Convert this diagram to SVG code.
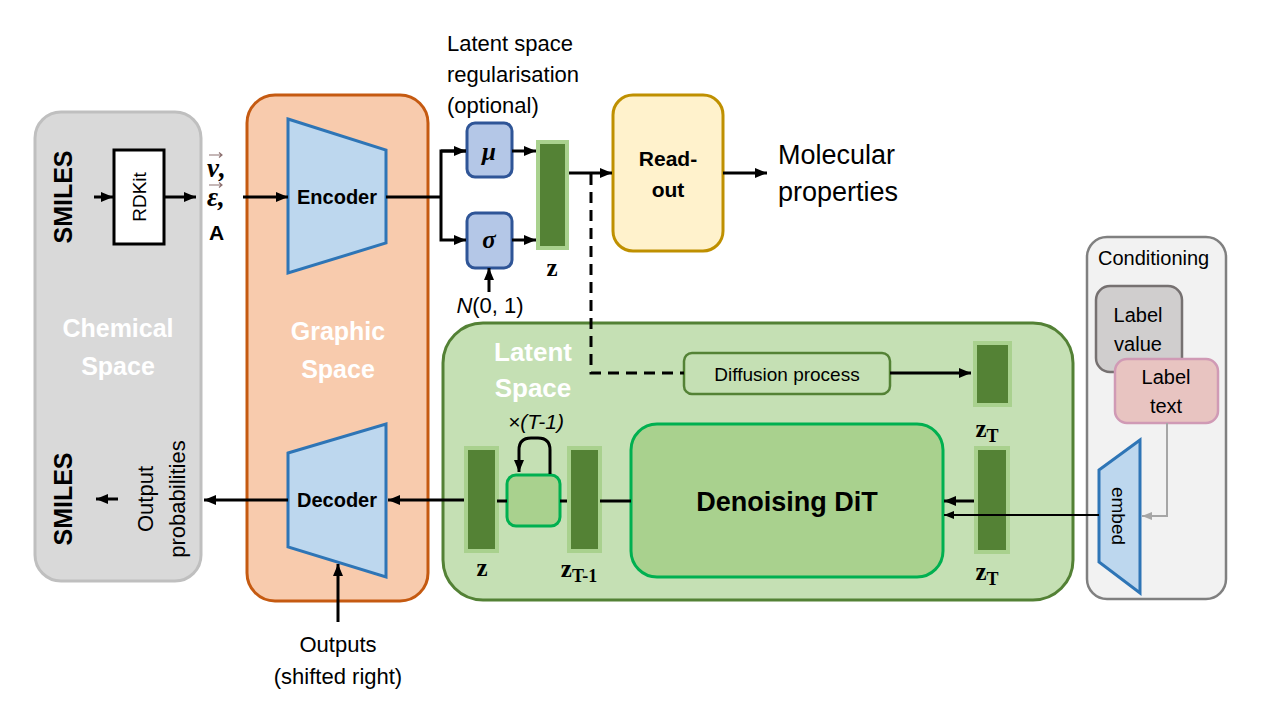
<svg xmlns="http://www.w3.org/2000/svg" width="1280" height="720" viewBox="0 0 1280 720">
<style>
.sans{font-family:"Liberation Sans",Arial,sans-serif;}
.serif{font-family:"Liberation Serif","Times New Roman",serif;}
.b{font-weight:bold;}
.ln{fill:none;stroke:#000;stroke-width:3;}
.thin{fill:none;stroke:#000;stroke-width:2;}
.zbar{fill:#548235;stroke:#a9d18e;stroke-width:4;}
.white{fill:#fff;}
.vec{fill:none;stroke:#8c7070;stroke-width:1.2;}
</style>
<defs>
<marker id="ah" markerUnits="userSpaceOnUse" markerWidth="12" markerHeight="10" viewBox="0 0 12 10" refX="12" refY="5" orient="auto">
<path d="M0,0 L12,5 L0,10 z" fill="#000"/>
</marker>
<marker id="ahs" markerUnits="userSpaceOnUse" markerWidth="10" markerHeight="8" viewBox="0 0 10 8" refX="10" refY="4" orient="auto">
<path d="M0,0 L10,4 L0,8 z" fill="#000"/>
</marker>
<marker id="ahg" markerUnits="userSpaceOnUse" markerWidth="10" markerHeight="8" viewBox="0 0 10 8" refX="10" refY="4" orient="auto">
<path d="M0,0 L10,4 L0,8 z" fill="#a6a6a6"/>
</marker>
</defs>
<rect width="1280" height="720" fill="#fff"/>

<g id="chemical-space">
<rect x="35" y="112" width="166" height="469" rx="26" fill="#d9d9d9" stroke="#bfbfbf" stroke-width="3"/>
<text class="sans b white" x="118" y="337" font-size="25" text-anchor="middle">Chemical</text>
<text class="sans b white" x="118" y="375" font-size="25" text-anchor="middle">Space</text>
<text class="sans b" transform="translate(63,197) rotate(-90)" font-size="25" text-anchor="middle" dominant-baseline="central">SMILES</text>
<text class="sans b" transform="translate(63,499) rotate(-90)" font-size="25" text-anchor="middle" dominant-baseline="central">SMILES</text>
<text class="sans" transform="translate(161,499) rotate(-90)" font-size="22" text-anchor="middle"><tspan x="0" y="-8">Output</tspan><tspan x="0" y="24">probabilities</tspan></text>
</g>

<g id="rdkit">
<rect x="114" y="150" width="50" height="94" fill="#fff" stroke="#000" stroke-width="3"/>
<text class="sans" transform="translate(139,197) rotate(-90)" font-size="19" text-anchor="middle" dominant-baseline="central">RDKit</text>
</g>

<g id="graph-inputs">
<text class="serif b" x="207" y="177" font-size="27" font-style="italic">ν,</text>
<path class="vec" d="M209,155 L222,155 M219,152.5 L222,155 L219,157.5"/>
<text class="serif b" x="207" y="206" font-size="27" font-style="italic">ε,</text>
<path class="vec" d="M209,185 L222,185 M219,182.5 L222,185 L219,187.5"/>
<text class="sans b" x="209" y="240" font-size="21">A</text>
</g>

<g id="graphic-space">
<rect x="247" y="95" width="181" height="506" rx="28" fill="#f8cbad" stroke="#c55a11" stroke-width="3"/>
<text class="sans b white" x="338" y="340" font-size="25" text-anchor="middle">Graphic</text>
<text class="sans b white" x="338" y="378" font-size="25" text-anchor="middle">Space</text>
</g>

<g id="encoder">
<polygon points="288,119 386,150 386,243 288,273" fill="#bdd7ee" stroke="#2e75b6" stroke-width="3"/>
<text class="sans b" x="337" y="204" font-size="20" text-anchor="middle">Encoder</text>
</g>

<g id="decoder">
<polygon points="288,453 386,424 386,577 288,547" fill="#bdd7ee" stroke="#2e75b6" stroke-width="3"/>
<text class="sans b" x="337" y="507" font-size="20" text-anchor="middle">Decoder</text>
</g>

<g id="outputs-label">
<text class="sans" x="338" y="652" font-size="22" text-anchor="middle">Outputs</text>
<text class="sans" x="338" y="684" font-size="22" text-anchor="middle">(shifted right)</text>
</g>

<g id="regularisation-label">
<text class="sans" x="447" y="51" font-size="22">Latent space</text>
<text class="sans" x="447" y="82" font-size="22">regularisation</text>
<text class="sans" x="447" y="113" font-size="22">(optional)</text>
</g>

<g id="mu">
<rect x="467" y="123" width="45" height="54" rx="8" fill="#b4c7e7" stroke="#2f5597" stroke-width="3"/>
<text class="serif b" x="489" y="160" font-size="25" font-style="italic" text-anchor="middle">μ</text>
</g>

<g id="sigma">
<rect x="467" y="213" width="45" height="55" rx="8" fill="#b4c7e7" stroke="#2f5597" stroke-width="3"/>
<text class="serif b" x="489" y="248" font-size="25" font-style="italic" text-anchor="middle">σ</text>
</g>

<g id="noise-label">
<text class="sans" x="490" y="313" font-size="22" text-anchor="middle"><tspan font-style="italic">N</tspan>(0, 1)</text>
</g>

<g id="z-top">
<rect class="zbar" x="538" y="142" width="29" height="106"/>
<text class="serif b" x="552" y="276" font-size="25" text-anchor="middle">z</text>
</g>

<g id="readout">
<rect x="613" y="95" width="110" height="156" rx="20" fill="#fff2cc" stroke="#bf9000" stroke-width="3"/>
<text class="sans b" x="668" y="166" font-size="21" text-anchor="middle">Read-</text>
<text class="sans b" x="668" y="197" font-size="21" text-anchor="middle">out</text>
</g>

<g id="molecular-properties">
<text class="sans" x="778" y="164" font-size="27">Molecular</text>
<text class="sans" x="778" y="201" font-size="27">properties</text>
</g>

<g id="latent-space">
<rect x="443" y="323" width="630" height="277" rx="40" fill="#c5e0b4" stroke="#538135" stroke-width="3"/>
<text class="sans b white" x="533" y="361" font-size="26" text-anchor="middle">Latent</text>
<text class="sans b white" x="533" y="397" font-size="26" text-anchor="middle">Space</text>
</g>

<g id="diffusion-process">
<rect x="684" y="353" width="206" height="41" rx="8" fill="#c5e0b4" stroke="#548235" stroke-width="2.5"/>
<text class="sans" x="787" y="381" font-size="19" text-anchor="middle">Diffusion process</text>
</g>

<g id="zT-top">
<rect class="zbar" x="975" y="343" width="35" height="62"/>
<text class="serif b" x="987" y="437" font-size="25" text-anchor="middle">z<tspan font-size="18" dy="5">T</tspan></text>
</g>

<g id="denoising-dit">
<rect x="631" y="424" width="312" height="153" rx="26" fill="#a9d18e" stroke="#00b050" stroke-width="3"/>
<text class="sans b" x="787" y="511" font-size="27" text-anchor="middle">Denoising DiT</text>
</g>

<g id="zT-bottom">
<rect class="zbar" x="976" y="448" width="32" height="104"/>
<text class="serif b" x="987" y="580" font-size="25" text-anchor="middle">z<tspan font-size="18" dy="5">T</tspan></text>
</g>

<g id="z-T-1">
<rect class="zbar" x="569" y="448" width="31" height="103"/>
<text class="serif b" x="579" y="577" font-size="25" text-anchor="middle">z<tspan font-size="18" dy="5">T-1</tspan></text>
</g>

<g id="step-block">
<rect x="507" y="475" width="53" height="51" rx="9" fill="#a9d18e" stroke="#00b050" stroke-width="3"/>
<text class="sans" x="536" y="429" font-size="21" font-style="italic" text-anchor="middle">×(T-1)</text>
</g>

<g id="z-bottom">
<rect class="zbar" x="466" y="448" width="31" height="103"/>
<text class="serif b" x="482" y="576" font-size="25" text-anchor="middle">z</text>
</g>

<g id="conditioning">
<rect x="1087" y="237" width="139" height="362" rx="20" fill="#f2f2f2" stroke="#808080" stroke-width="2.5"/>
<text class="sans" x="1098" y="265" font-size="20">Conditioning</text>
</g>

<g id="label-value">
<rect x="1096" y="286" width="86" height="86" rx="14" fill="#d0cece" stroke="#767171" stroke-width="2.5"/>
<text class="sans" x="1138" y="322" font-size="20" text-anchor="middle">Label</text>
<text class="sans" x="1138" y="351" font-size="20" text-anchor="middle">value</text>
</g>

<g id="label-text">
<rect x="1115" y="359" width="103" height="64" rx="12" fill="#e8c4c1" stroke="#d09ab5" stroke-width="2.5"/>
<text class="sans" x="1166" y="384" font-size="20" text-anchor="middle">Label</text>
<text class="sans" x="1166" y="413" font-size="20" text-anchor="middle">text</text>
</g>

<g id="embed">
<polygon points="1099,470 1140,440 1140,593 1099,562" fill="#bdd7ee" stroke="#2e75b6" stroke-width="3"/>
<text class="sans" transform="translate(1118,516) rotate(90)" font-size="19" text-anchor="middle" dominant-baseline="central">embed</text>
</g>

<g id="connectors">
<line class="ln" x1="94" y1="197" x2="113" y2="197" marker-end="url(#ah)"/>
<line class="ln" x1="164" y1="197" x2="196" y2="197" marker-end="url(#ah)"/>
<line class="ln" x1="243" y1="197" x2="288" y2="197" marker-end="url(#ah)"/>
<polyline class="ln" points="386,197 441,197"/>
<polyline class="ln" points="466,151 441,151 441,240 466,240" marker-end="url(#ah)"/>
<line class="ln" x1="441" y1="151" x2="466" y2="151" marker-end="url(#ah)"/>
<line class="ln" x1="512" y1="151" x2="536" y2="151" marker-end="url(#ah)"/>
<line class="ln" x1="512" y1="240" x2="536" y2="240" marker-end="url(#ah)"/>
<line class="ln" x1="489" y1="292" x2="489" y2="268" marker-end="url(#ah)"/>
<line class="ln" x1="569" y1="173" x2="612" y2="173" marker-end="url(#ah)"/>
<line class="ln" x1="723" y1="173" x2="767" y2="173" marker-end="url(#ah)"/>
<polyline class="ln" points="591,174 591,373 684,373" stroke-dasharray="11,7"/>
<line class="ln" x1="890" y1="373" x2="971" y2="373" marker-end="url(#ah)"/>
<line class="ln" x1="974" y1="501" x2="944" y2="501" marker-end="url(#ah)"/>
<line class="thin" x1="1099" y1="515" x2="944" y2="515" marker-end="url(#ahs)"/>
<polyline fill="none" stroke="#a6a6a6" stroke-width="2" points="1167,423 1167,516 1142,516" marker-end="url(#ahg)"/>
<line class="ln" x1="600" y1="501" x2="631" y2="501"/>
<line class="ln" x1="560" y1="501" x2="567" y2="501"/>
<line class="ln" x1="497" y1="501" x2="507" y2="501"/>
<line class="ln" x1="464" y1="500" x2="388" y2="500" marker-end="url(#ah)"/>
<line class="ln" x1="288" y1="500" x2="204" y2="500" marker-end="url(#ah)"/>
<line class="ln" x1="118" y1="499" x2="96" y2="499" marker-end="url(#ah)"/>
<line class="ln" x1="338" y1="622" x2="338" y2="564" marker-end="url(#ah)"/>
<path class="ln" d="M550,474 L550,450 Q550,438 538,438 L531,438 Q519,438 519,450 L519,472" marker-end="url(#ah)"/>
</g>
</svg>
